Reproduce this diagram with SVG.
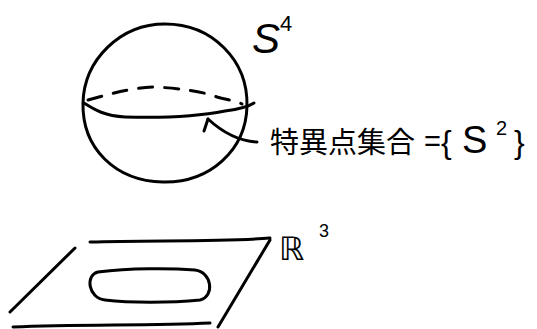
<svg xmlns="http://www.w3.org/2000/svg" width="537" height="329" viewBox="0 0 537 329">
<style>
.ln{fill:none;stroke:#000;stroke-width:3;stroke-linecap:round;stroke-linejoin:round}
.dash{stroke-dasharray:14 12}
.t{font-family:"Liberation Sans","Noto Sans CJK JP",sans-serif;fill:#000}
</style>
<rect width="537" height="329" fill="#fff"/>
<g id="sphere">
<path class="ln" d="M165,24 C212,24 248,60 247,106 C246,150 210,183 163,182 C115,181 82,148 83,103 C84,60 120,24 165,24 Z"/>
<path class="ln dash" d="M88,100 C110,94 130,88 153,87 C180,88 205,92 217,97 C228,100 236,101 242,104"/>
<path class="ln" d="M84,103 C95,110 105,116 125,117 C160,118 200,116 225,111 C240,109 248,107 254,103"/>
<text class="t" x="252" y="53" font-size="42" font-style="italic">S</text>
<text class="t" x="280" y="31" font-size="22">4</text>
</g>
<g id="label">
<text class="t" x="270" y="153" font-size="29">特異点集合</text>
<text class="t" x="424" y="151" font-size="29">=</text>
<text class="t" x="441" y="153" font-size="32">{</text>
<text class="t" x="462" y="153" font-size="38">S</text>
<text class="t" x="496" y="135" font-size="20">2</text>
<text class="t" x="514" y="153" font-size="32">}</text>
</g>
<g id="plane">
<path class="ln" d="M90,242 C150,240 220,242 270,238"/>
<path class="ln" d="M270,240 L218,327"/>
<path class="ln" d="M75,248 L10,312"/>
<path class="ln" d="M13,327 C80,324 150,326 210,323"/>
<path class="ln" d="M98,272 C130,268 170,268 195,270 C212,272 215,296 200,300 C170,303 130,303 105,300 C88,298 85,275 98,272 Z"/>
<text x="279" y="260" font-size="32" font-style="italic" font-family="'DejaVu Sans',sans-serif" fill="#000">ℝ</text>
<text class="t" x="319" y="237" font-size="18">3</text>
</g>
<g id="connectors">
<path class="ln" d="M257,142 C236,141 220,130 208,119"/>
<path class="ln" d="M208,119 L204,131"/>
</g>
</svg>
